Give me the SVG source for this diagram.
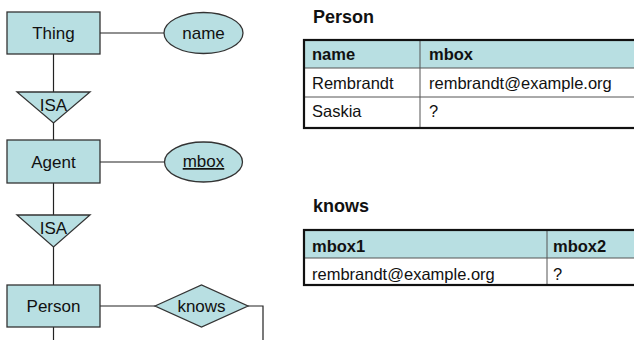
<svg xmlns="http://www.w3.org/2000/svg" width="634" height="340" viewBox="0 0 634 340">
<style>
.shape{fill:#b8dfe2;stroke:#333;stroke-width:1.3}
.lbl{font-family:"Liberation Sans",Arial,sans-serif;font-size:17px;fill:#111;text-anchor:middle}
.conn{stroke:#222;stroke-width:1.2;fill:none}
.title{font-family:"Liberation Sans",Arial,sans-serif;font-size:18px;font-weight:bold;fill:#111}
.th{font-family:"Liberation Sans",Arial,sans-serif;font-size:16.5px;font-weight:bold;fill:#111}
.td{font-family:"Liberation Sans",Arial,sans-serif;font-size:16.5px;fill:#111}
.hdr{fill:#b8dfe2;stroke:none}
.inner{stroke:#555;stroke-width:1;fill:none}
.outer{stroke:#111;stroke-width:2.2;fill:none}
</style>
<rect width="634" height="340" fill="#fff"/>
<g id="connectors">
<line class="conn" x1="100" y1="33" x2="164" y2="33"/>
<line class="conn" x1="100" y1="162" x2="164" y2="162"/>
<line class="conn" x1="100" y1="306" x2="155" y2="306"/>
<polyline class="conn" points="248,306 263,306 263,340"/>
<line class="conn" x1="53.5" y1="54" x2="53.5" y2="92"/>
<line class="conn" x1="53.5" y1="123" x2="53.5" y2="140"/>
<line class="conn" x1="53.5" y1="183" x2="53.5" y2="215"/>
<line class="conn" x1="53.5" y1="247" x2="53.5" y2="285"/>
<line class="conn" x1="53.5" y1="327" x2="53.5" y2="340"/>
</g>
<g id="thing"><rect class="shape" x="7" y="12" width="93" height="42"/><text class="lbl" x="53.5" y="39">Thing</text></g>
<g id="name"><ellipse class="shape" cx="203.5" cy="33" rx="39.5" ry="20.5"/><text class="lbl" x="203.5" y="39">name</text></g>
<g id="isa1"><polygon class="shape" points="17,92 90,92 53.5,123"/><text class="lbl" x="53.5" y="111">ISA</text></g>
<g id="agent"><rect class="shape" x="7" y="140" width="93" height="43"/><text class="lbl" x="53.5" y="168">Agent</text></g>
<g id="mbox"><ellipse class="shape" cx="203.5" cy="162" rx="39" ry="20"/><text class="lbl" x="203.5" y="167" text-decoration="underline">mbox</text></g>
<g id="isa2"><polygon class="shape" points="17,215 90,215 53.5,247"/><text class="lbl" x="53.5" y="234">ISA</text></g>
<g id="person"><rect class="shape" x="7" y="285" width="93" height="42"/><text class="lbl" x="53.5" y="312">Person</text></g>
<g id="knows"><polygon class="shape" points="155,306 201.5,285 248,306 201.5,327"/><text class="lbl" x="201.5" y="312">knows</text></g>
<g id="person-table">
<text class="title" x="313" y="23">Person</text>
<rect class="hdr" x="304" y="40" width="340" height="28"/>
<line class="inner" x1="304" y1="68" x2="640" y2="68"/>
<line class="inner" x1="304" y1="97" x2="640" y2="97"/>
<line class="inner" x1="420" y1="40" x2="420" y2="128"/>
<rect class="outer" x="304" y="40" width="340" height="88"/>
<text class="th" x="312" y="60">name</text>
<text class="th" x="429" y="60">mbox</text>
<text class="td" x="312" y="89">Rembrandt</text>
<text class="td" x="429" y="89">rembrandt@example.org</text>
<text class="td" x="312" y="117">Saskia</text>
<text class="td" x="429" y="117">?</text>
</g>
<g id="knows-table">
<text class="title" x="313" y="212">knows</text>
<rect class="hdr" x="304" y="230" width="340" height="28"/>
<line class="inner" x1="304" y1="258" x2="640" y2="258"/>
<line class="inner" x1="547" y1="230" x2="547" y2="285"/>
<rect class="outer" x="304" y="230" width="340" height="55"/>
<text class="th" x="312" y="252">mbox1</text>
<text class="th" x="553" y="252">mbox2</text>
<text class="td" x="312" y="280">rembrandt@example.org</text>
<text class="td" x="553" y="280">?</text>
</g>
</svg>
